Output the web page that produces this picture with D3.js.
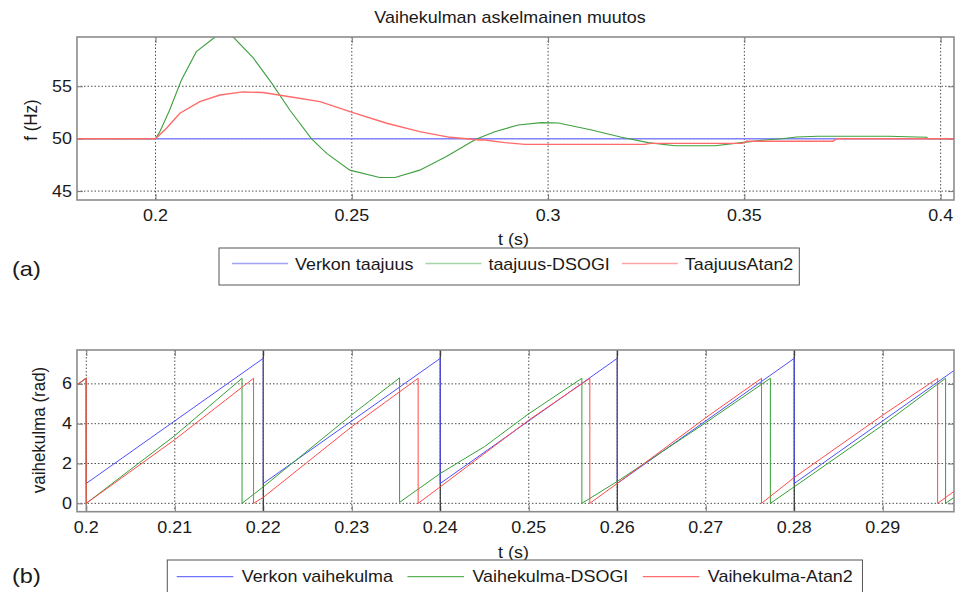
<!DOCTYPE html>
<html>
<head>
<meta charset="utf-8">
<script src="https://cdn.jsdelivr.net/npm/d3@7"></script>
<style>
  html,body{margin:0;padding:0;background:#fff;}
  svg{display:block;font-family:"Liberation Sans",Arial,sans-serif;}
</style>
</head>
<body>
<div id="chart"></div>
<script>
// ---- data ----
// (a) frequency, [t (s), f (Hz)]
const freqGrid   = [[0.18,50],[0.4034,50]];
const freqDsogi  = [[0.18,50],[0.2,50],[0.2011,50.67],[0.2036,52.74],[0.2066,55.6],[0.2104,58.3],[0.2151,59.68],
  [0.2172,60.0],[0.2198,59.7],[0.2249,57.7],[0.2296,55.3],[0.2342,52.74],[0.2397,50],[0.2436,48.6],[0.2495,47.0],
  [0.2571,46.3],[0.2610,46.3],[0.2673,47.0],[0.2741,48.3],[0.2816,49.95],[0.2864,50.67],[0.2924,51.3],[0.2983,51.53],
  [0.3026,51.5],[0.3111,50.83],[0.3187,50.13],[0.3255,49.62],[0.3323,49.33],[0.3425,49.33],[0.3493,49.62],
  [0.3552,49.87],[0.3595,50],[0.3633,50.16],[0.3688,50.23],[0.3867,50.23],[0.3964,50.13],[0.3968,50],[0.4034,50]];
const freqAtan2  = [[0.18,50],[0.2,50],[0.2028,50.99],[0.2062,52.43],[0.2113,53.53],[0.2164,54.17],[0.2223,54.46],
  [0.2274,54.4],[0.2342,54.0],[0.2419,53.53],[0.2503,52.48],[0.2589,51.47],[0.2673,50.67],[0.275,50.13],
  [0.2826,49.87],[0.2839,49.87],[0.289,49.62],[0.2941,49.46],[0.3247,49.46],[0.3260,49.55],[0.3495,49.55],
  [0.3505,49.75],[0.3726,49.75],[0.3735,50],[0.4034,50]];
// (b) phase angle, [t (s), rad]
const phaseGrid  = [[0.19895,5.95],[0.2,6.28],[0.2,1.0],[0.22,7.28],[0.22,1.0],[0.24,7.28],[0.24,1.0],
  [0.26,7.28],[0.26,1.0],[0.28,7.28],[0.28,1.0],[0.29805,6.67]];
const phaseDsogi = [[0.19895,5.95],[0.2,6.3],[0.2,0],[0.21,3.4],[0.2176,6.28],[0.2176,0],[0.22,0.83],[0.23,4.45],
  [0.2354,6.3],[0.2354,0.05],[0.24,1.5],[0.245,2.85],[0.25,4.5],[0.256,6.28],[0.256,0],[0.26,1.1],[0.27,4.05],
  [0.2773,6.28],[0.2773,0],[0.28,0.83],[0.29,3.93],[0.2971,6.28],[0.2971,0],[0.29805,0.3]];
const phaseAtan2 = [[0.19895,5.95],[0.2,6.3],[0.2,0],[0.21,3.2],[0.2189,6.28],[0.2189,0],[0.22,0.3],[0.23,3.85],
  [0.2375,6.28],[0.2375,0],[0.24,0.83],[0.25,4.18],[0.2569,6.28],[0.2569,0],[0.26,1.0],[0.27,4.3],
  [0.2763,6.28],[0.2763,0],[0.28,1.3],[0.29,4.43],[0.2962,6.28],[0.2962,0],[0.29805,0.6]];

const xTicksA = [0.2,0.25,0.3,0.35,0.4];
const xLabelsA = ["0.2","0.25","0.3","0.35","0.4"];
const yTicksA = [45,50,55];
const xTicksB = [0.2,0.21,0.22,0.23,0.24,0.25,0.26,0.27,0.28,0.29];
const xLabelsB = ["0.2","0.21","0.22","0.23","0.24","0.25","0.26","0.27","0.28","0.29"];
const yTicksB = [0,2,4,6];
const wrapTimesB = [0.22,0.24,0.26,0.28];   // dark full-height verticals in (b)

const legendA = ["Verkon taajuus","taajuus-DSOGI","TaajuusAtan2"];
const legendB = ["Verkon vaihekulma","Vaihekulma-DSOGI","Vaihekulma-Atan2"];

// ---- drawing ----
const W=955,H=592, SX=1.12, INK="#1a1a1a";
const svg=d3.select("#chart").append("svg").attr("width",W).attr("height",H);

function label(sel,x,y,str,o={}){
  const g=sel.append("g").attr("transform",`translate(${x},${y})`+(o.rot?" rotate(-90)":""));
  return g.append("text").attr("transform",`scale(${o.sx||SX},${o.sy||1})`)
    .attr("text-anchor",o.anchor||"start").attr("font-size",o.size||16).attr("fill",INK).text(str);
}

function panel(cfg){
  const {x,y,id}=cfg, [x0,x1]=x.range(), [y0,y1]=y.range(), h=y0-y1, w=x1-x0;
  const g=svg.append("g");
  g.append("clipPath").attr("id",id).append("rect").attr("x",x0).attr("y",y1).attr("width",w).attr("height",h);
  // dotted grid
  const grid=g.append("g").attr("stroke","#3a3a3a").attr("stroke-dasharray","1.5,2").attr("stroke-width",0.9);
  grid.selectAll("line.gx").data(cfg.xt).join("line").attr("x1",x).attr("x2",x).attr("y1",y1).attr("y2",y0);
  grid.selectAll("line.gy").data(cfg.yt).join("line").attr("x1",x0).attr("x2",x1).attr("y1",y).attr("y2",y);
  // inner ticks on all sides
  const tk=g.append("g").attr("stroke","#777").attr("stroke-width",1);
  [["bottom",y0],["top",y1]].forEach(([s,yy])=>{
    const ax=(s==="bottom"?d3.axisBottom(x):d3.axisTop(x)).tickValues(cfg.xt).tickSize(-6).tickFormat("");
    tk.append("g").attr("transform",`translate(0,${yy})`).call(ax).call(a=>a.select(".domain").remove())
      .call(a=>a.selectAll("line").attr("stroke","#777"));
  });
  [["left",x0],["right",x1]].forEach(([s,xx])=>{
    const ax=(s==="left"?d3.axisLeft(y):d3.axisRight(y)).tickValues(cfg.yt).tickSize(-6).tickFormat("");
    tk.append("g").attr("transform",`translate(${xx},0)`).call(ax).call(a=>a.select(".domain").remove())
      .call(a=>a.selectAll("line").attr("stroke","#777"));
  });
  if(cfg.extra) cfg.extra(g);
  const line=d3.line().x(d=>x(d[0])).y(d=>y(d[1]));
  const lines=g.append("g").attr("clip-path",`url(#${id})`).attr("fill","none");
  cfg.series.forEach(s=>lines.append("path").datum(s.data).attr("d",line)
    .attr("stroke",s.color).attr("stroke-width",s.width));
  g.append("rect").attr("x",x0).attr("y",y1).attr("width",w).attr("height",h)
    .attr("fill","none").attr("stroke","#8c8c8c").attr("stroke-width",1.6);
  // tick labels
  cfg.xt.forEach((t,i)=>label(g,x(t),cfg.xLabelY,cfg.xl[i],{anchor:"middle"}));
  cfg.yt.forEach(v=>label(g,x0-5,y(v)+5.6,String(v),{anchor:"end"}));
  label(g,(x0+x1)/2-2,cfg.xTitleY,"t (s)",{anchor:"middle"});
  label(g,cfg.yTitleX,cfg.yTitleY,cfg.yTitle,{anchor:"middle",rot:true,size:17,sx:1,sy:1.05});
}

function legend(items,colors,o){
  const g=svg.append("g");
  const box=g.append("rect").attr("x",o.x0).attr("y",o.top).attr("height",o.height)
    .attr("fill","#fff").attr("stroke","#555").attr("stroke-width",1);
  let cx=o.x0+o.pad;
  items.forEach((s,i)=>{
    g.append("line").attr("x1",cx).attr("x2",cx+o.len).attr("y1",o.lineY).attr("y2",o.lineY)
      .attr("stroke",colors[i]).attr("stroke-width",o.lw);
    const t=label(g,cx+o.len+o.gap,o.textY,s);
    cx=cx+o.len+o.gap+t.node().getComputedTextLength()*SX+o.itemGap;
  });
  box.attr("width",cx-o.itemGap+o.rightPad-o.x0);
}

// (a)
const xa=d3.scaleLinear().domain([0.18,0.4034]).range([77,954]);
const ya=d3.scaleLinear().domain([44.15,59.7]).range([200,37]);
label(svg,510,22.7,"Vaihekulman askelmainen muutos",{anchor:"middle"});
panel({id:"clipA",x:xa,y:ya,xt:xTicksA,xl:xLabelsA,yt:yTicksA,xLabelY:220.7,xTitleY:244.5,
  yTitle:"f (Hz)",yTitleX:37,yTitleY:120,
  series:[{data:freqGrid,color:"#8585ff",width:1.6},{data:freqDsogi,color:"#3f9f3f",width:1.1},
          {data:freqAtan2,color:"#ff6a6a",width:1.4}]});
legend(legendA,["#a4a4f6","#a6d4a6","#ffa4a4"],
  {x0:219,top:248,height:37,pad:13,len:56,gap:7,itemGap:12,rightPad:6,lineY:263.5,textY:270,lw:1.6});
label(svg,12,276,"(a)",{size:21});

// (b)
const xb=d3.scaleLinear().domain([0.19895,0.29805]).range([77,954]);
const yb=d3.scaleLinear().domain([-0.42,7.7]).range([511.7,350]);
panel({id:"clipB",x:xb,y:yb,xt:xTicksB,xl:xLabelsB,yt:yTicksB,xLabelY:533.3,xTitleY:558,
  yTitle:"vaihekulma (rad)",yTitleX:44.7,yTitleY:430,
  extra:g=>{
    g.selectAll("line.wrap").data(wrapTimesB).join("line")
      .attr("x1",xb).attr("x2",xb).attr("y1",yb.range()[1]).attr("y2",yb.range()[0])
      .attr("stroke","#333").attr("stroke-width",1.2);
    g.append("line").attr("x1",xb(0.2)).attr("x2",xb(0.2)).attr("y1",yb(6.3)).attr("y2",yb.range()[0])
      .attr("stroke","#888").attr("stroke-width",1.4);
  },
  series:[{data:phaseGrid,color:"#4f4fff",width:1},{data:phaseDsogi,color:"#36a036",width:1},
          {data:phaseAtan2,color:"#ff4a4a",width:1}]});
legend(legendB,["#4f4fff","#36a036","#ff4a4a"],
  {x0:167.3,top:560,height:40,pad:9.4,len:56.6,gap:8.4,itemGap:14.5,rightPad:9.7,lineY:576.7,textY:582,lw:1});
label(svg,12,583,"(b)",{size:21});
</script>
</body>
</html>
